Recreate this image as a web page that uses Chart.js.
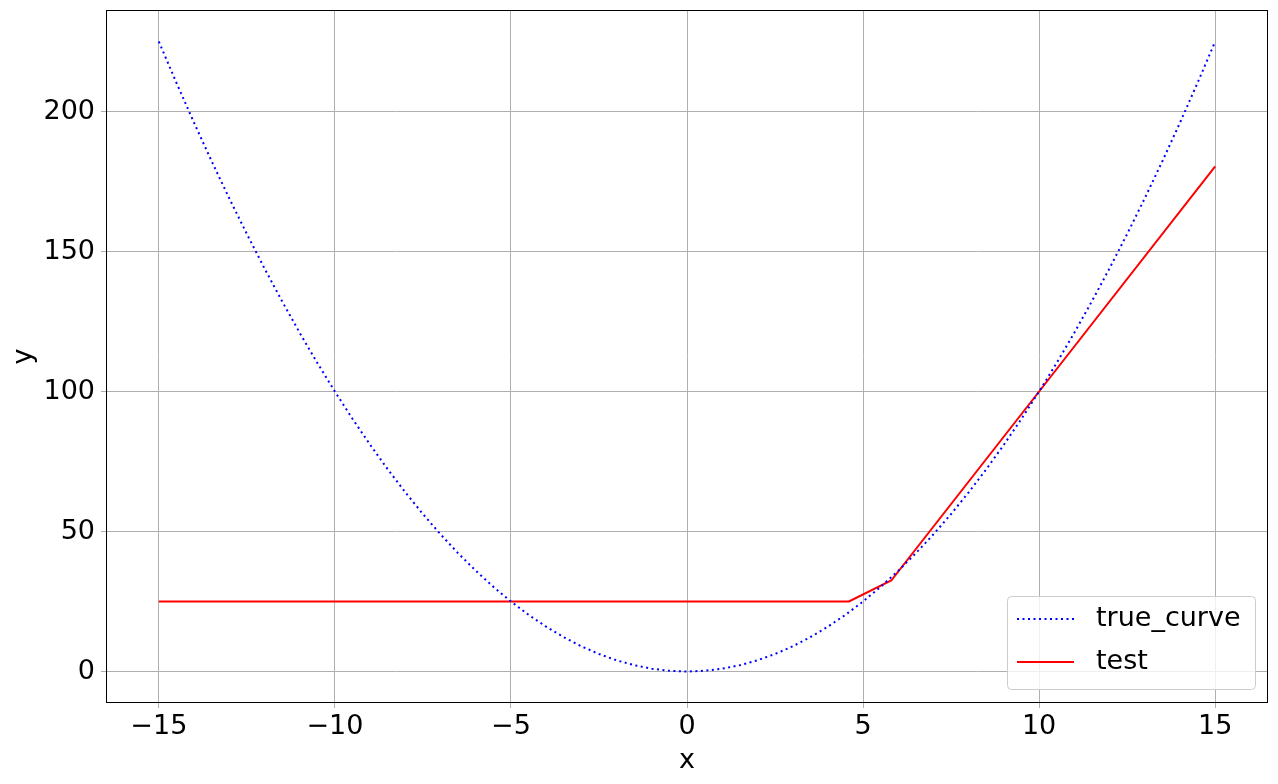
<!DOCTYPE html>
<html>
<head>
<meta charset="utf-8">
<script src="https://cdn.jsdelivr.net/npm/chart.js@4"></script>
<style>
  html, body { margin: 0; padding: 0; background: #fff; }
  #wrap { width: 1278px; height: 784px; }
</style>
</head>
<body>
<div id="wrap"><canvas id="chart" width="1278" height="784"></canvas></div>
<script>
// true curve
const curveX = [-15, -14.5, -14, -13.5, -13, -12.5, -12, -11.5, -11, -10.5, -10, -9.5, -9, -8.5, -8, -7.5, -7, -6.5, -6, -5.5, -5, -4.5, -4, -3.5, -3, -2.5, -2, -1.5, -1, -0.5, 0,
  0.5, 1, 1.5, 2, 2.5, 3, 3.5, 4, 4.5, 5, 5.5, 6, 6.5, 7, 7.5, 8, 8.5, 9, 9.5, 10, 10.5, 11, 11.5, 12, 12.5, 13, 13.5, 14, 14.5, 15];
const curveY = [225, 210.25, 196, 182.25, 169, 156.25, 144, 132.25, 121, 110.25, 100, 90.25, 81, 72.25, 64, 56.25, 49, 42.25, 36, 30.25, 25, 20.25, 16, 12.25, 9, 6.25, 4, 2.25, 1, 0.25, 0,
  0.25, 1, 2.25, 4, 6.25, 9, 12.25, 16, 20.25, 25, 30.25, 36, 42.25, 49, 56.25, 64, 72.25, 81, 90.25, 100, 110.25, 121, 132.25, 144, 156.25, 169, 182.25, 196, 210.25, 225];

// test line
const testX = [-15, 4.6, 5.8, 10, 15];
const testY = [25, 25, 32.5, 100, 180.4];

const xTicks = [-15, -10, -5, 0, 5, 10, 15];
const yTicks = [0, 50, 100, 150, 200];

const FONT = "'DejaVu Sans', sans-serif";
const FS = 27;
const minus = (v) => String(v).replace("-", "\u2212");

const toPts = (xs, ys) => xs.map((x, i) => ({ x: x, y: ys[i] }));

// frame around plot area (matplotlib spines)
const framePlugin = {
  id: "frame",
  afterDatasetsDraw(chart) {
    const a = chart.chartArea;
    const ctx = chart.ctx;
    ctx.save();
    ctx.strokeStyle = "#000";
    ctx.lineWidth = 1;
    ctx.strokeRect(Math.round(a.left) + 0.5, Math.round(a.top) + 0.5,
      Math.round(a.right - a.left) - 1, Math.round(a.bottom - a.top) - 1);
    ctx.restore();
  },
};

// legend box, lower right
const legendPlugin = {
  id: "mplLegend",
  afterDraw(chart) {
    const ctx = chart.ctx;
    const a = chart.chartArea;
    const w = 248, h = 93;
    const x0 = a.right - 13 - w, y0 = a.bottom - 14 - h;
    ctx.save();
    ctx.beginPath();
    ctx.roundRect(x0 + 0.5, y0 + 0.5, w, h, 4);
    ctx.fillStyle = "rgba(255,255,255,0.8)";
    ctx.fill();
    ctx.strokeStyle = "#cccccc";
    ctx.lineWidth = 1;
    ctx.stroke();
    ctx.font = FS + "px " + FONT;
    ctx.textBaseline = "middle";
    chart.data.datasets.forEach((ds, i) => {
      const yy = y0 + 23 + i * 43;
      ctx.beginPath();
      ctx.setLineDash(ds.borderDash || []);
      ctx.strokeStyle = ds.borderColor;
      ctx.lineWidth = ds.borderWidth;
      ctx.moveTo(x0 + 10, yy);
      ctx.lineTo(x0 + 67, yy);
      ctx.stroke();
      ctx.setLineDash([]);
      ctx.fillStyle = "#000";
      ctx.fillText(ds.label, x0 + 89, yy);
    });
    ctx.restore();
  },
};

new Chart(document.getElementById("chart"), {
  type: "scatter",
  data: {
    datasets: [
      {
        label: "true_curve",
        data: toPts(curveX, curveY),
        showLine: true,
        borderColor: "#0000ff",
        borderWidth: 2,
        borderDash: [2, 3.5],
        pointRadius: 0,
        fill: false,
      },
      {
        label: "test",
        data: toPts(testX, testY),
        showLine: true,
        borderColor: "#ff0000",
        borderWidth: 2,
        pointRadius: 0,
        fill: false,
      },
    ],
  },
  options: {
    responsive: false,
    animation: false,
    devicePixelRatio: 1,
    layout: { padding: { left: 0, right: 10, top: 10, bottom: 0 } },
    plugins: { legend: { display: false }, tooltip: { enabled: false } },
    scales: {
      x: {
        type: "linear",
        min: -16.5,
        max: 16.5,
        afterBuildTicks: (s) => { s.ticks = xTicks.map((v) => ({ value: v })); },
        afterFit: (s) => { s.height = 81; s.paddingLeft = 0; s.paddingRight = 0; },
        grid: { color: "#b0b0b0", lineWidth: 1, tickLength: 5, drawTicks: true },
        border: { display: false },
        ticks: {
          color: "#000",
          font: { family: FONT, size: FS },
          padding: 3,
          maxRotation: 0,
          callback: (v) => minus(v),
        },
        title: { display: true, text: "x", color: "#000", font: { family: FONT, size: FS }, padding: { top: 0, bottom: 7 } },
      },
      y: {
        type: "linear",
        min: -11.25,
        max: 236.25,
        afterBuildTicks: (s) => { s.ticks = yTicks.map((v) => ({ value: v })); },
        afterFit: (s) => { s.width = 106; s.paddingTop = 0; s.paddingBottom = 0; },
        grid: { color: "#b0b0b0", lineWidth: 1, tickLength: 5, drawTicks: true },
        border: { display: false },
        ticks: {
          color: "#000",
          font: { family: FONT, size: FS },
          padding: 6,
          callback: (v) => minus(v),
        },
        title: { display: true, text: "y", color: "#000", font: { family: FONT, size: FS }, padding: { top: 8, bottom: 4 } },
      },
    },
  },
  plugins: [framePlugin, legendPlugin],
});
</script>
</body>
</html>
